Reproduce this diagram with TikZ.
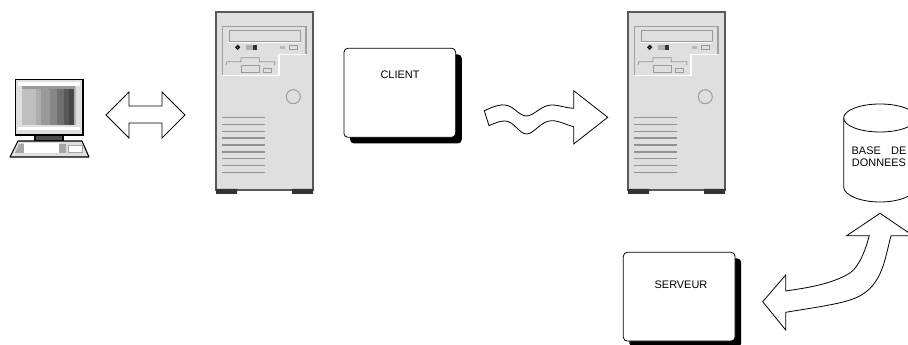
\documentclass[tikz,border=0pt]{standalone}
\usepackage{fontspec}
\setmainfont{Liberation Sans}
\usetikzlibrary{shadows}

\tikzset{
  panel/.style={draw=black, fill=white, rounded corners=3pt, line width=0.6pt, inner sep=0pt,
    general shadow={shadow xshift=4.6pt, shadow yshift=-4.6pt, fill=black}},
  caption/.style={font=\fontsize{8.2}{8.8}\selectfont, inner sep=0pt, align=center},
  flow/.style={draw=black, fill=white, line width=0.6pt, line join=miter},
  hole/.style={draw=gray!80, line width=0.6pt, fill=gray!25},
  vent/.style={draw=gray!85, line width=0.9pt},
  pics/tower/.style={code={
    % Case and feet
    \draw[fill=gray!25, draw=gray!70!black, line width=0.8pt] (0,0) rectangle (97,178);
    \fill[black!80] (0,177) rectangle (21,182) (76,177) rectangle (97,182);
    % Front panel
    \draw[gray!75, line width=0.9pt] (6.3,63.7) -- (6.3,14.7) -- (90,14.7) -- (90,42.3);
    \draw[white, line width=1pt] (6.3,63.7) -- (63,63.7) -- (63,42.3) -- (90,42.3);
    \draw[white, line width=0.6pt] (12,30) -- (85,30);
    \draw[hole] (13,18) rectangle (84,29);
    \draw[gray!20!black, line width=1.1pt, fill=gray!40] (21.7,35.3) circle (1.7);
    \fill[gray!60] (30,33.3) rectangle (36.7,37.7);
    \fill[black!80] (36.7,33.3) rectangle (41,37.7);
    \fill[gray!55] (64,33.7) rectangle (69,37);
    \draw[hole] (73,33) rectangle (81,37.7);
    % Floppy drives
    \draw[hole, fill=none] (10,53) -- (11,49.7) -- (25,49.7) -- (25,45.7) -- (43.3,45.7) -- (43.3,49.7) -- (59,49.7) -- (58.5,53);
    \draw[hole, fill=none] (25,53) rectangle (43.3,60.7);
    \draw[hole] (47.3,56.3) rectangle (55.7,60.7);
    % Power button
    \draw[gray!75, fill=gray!25, line width=0.8pt] (77.3,84.7) circle (7);
    % Vents
    \foreach \v in {0,...,8} {
      \draw[vent] (6.3,105.3+6.93*\v) -- (49,105.3+6.93*\v);
    }
  }}
}

\begin{document}
\begin{tikzpicture}[x=0.75pt, y=-0.75pt]

  \clip (0,0) rectangle (908,345);

  % Terminal
  \draw[fill=gray!25, draw=black, line width=0.8pt] (15.7,79.3) rectangle (83,135);
  \fill[white] (18,82) rectangle (80,86);
  \foreach \x/\w/\g in {22/13.7/25, 35.7/5/32, 40.7/9/40, 49.7/7.7/47, 57.4/6.3/56, 63.7/5/66, 68.7/6.3/72} {
    \fill[black!\g] (\x,87) rectangle ++(\w,38);
  }
  \fill[gray!80] (22,86) rectangle (75,89);
  \fill[gray!60] (73.5,87) rectangle (75.5,125);
  \fill[white] (18,127) rectangle (80,130);
  \draw[fill=gray!60!black, line width=0.8pt] (35,135) rectangle (63,141);
  \draw[fill=gray!25, line width=0.8pt, line join=round] (18,141) -- (82,141) -- (89,157) -- (10,157) -- cycle;
  \fill[gray!70] (19,144) -- (66,144) -- (66,153) -- (15,153) -- cycle;
  \fill[white] (24,143.5) rectangle (59,153);
  \draw[gray!70, fill=white, line width=0.6pt] (68,145) rectangle (82,152);

  % Towers
  \pic at (216,12) {tower};
  \pic at (628,12) {tower};

  % Boxes
  \node[panel, minimum width=83.8pt, minimum height=66.8pt] (client) at (399.8,92.8) {};
  \node[caption] (clienttext) at (400,75) {CLIENT};
  \node[panel, minimum width=83.8pt, minimum height=66.6pt] (serveur) at (679.2,296.7) {};
  \node[caption] (serveurtext) at (681,285) {SERVEUR};

  % Arrows
  \draw[flow] (106,115) -- (129,92) -- (129,106) -- (162,106) -- (162,92) -- (185,115)
    -- (162,138) -- (162,123) -- (129,123) -- (129,138) -- cycle;

  \draw[flow] (484.3,110.7) .. controls (497,105) and (501,104.5) .. (505,105)
    .. controls (514,106) and (519,116) .. (526.7,116)
    .. controls (534,116) and (541,105) .. (551.7,105)
    .. controls (560,105) and (566,108.3) .. (573.7,108.3)
    -- (573.7,90.7) -- (607.7,117.3) -- (573.7,144) -- (573.7,126.7)
    .. controls (566,125) and (560,120.7) .. (551.7,120.7)
    .. controls (541,120.7) and (534,134) .. (526.7,134)
    .. controls (519,134) and (514,121) .. (505,121)
    .. controls (501,121) and (497,122) .. (489,125.7) -- cycle;

  \draw[flow] (880,213.3) -- (913,235.7) -- (891,235.7)
    .. controls (884,262) and (882,290) .. (850,300)
    .. controls (835,305) and (805,309) .. (785.7,312.3)
    -- (785.7,330) -- (762.7,301.7) -- (785.7,275) -- (785.7,291)
    .. controls (805,288) and (830,285) .. (850,273)
    .. controls (860,266) and (866,248) .. (869.3,235.7)
    -- (846.7,235.7) -- cycle;

  % Database
  \draw[draw=black, fill=white, line width=0.6pt] (843.7,118) -- (843.7,187)
    .. controls (843.7,195) and (860,202) .. (880,202)
    .. controls (900,202) and (916,195) .. (916,187) -- (916,118);
  \draw[draw=black, fill=white, line width=0.6pt] (880,118) ellipse (36.3 and 14);
  \node[caption] (base) at (879,157) {\makebox[41pt]{BASE\hfill DE}\\DONNEES};

\end{tikzpicture}
\end{document}
